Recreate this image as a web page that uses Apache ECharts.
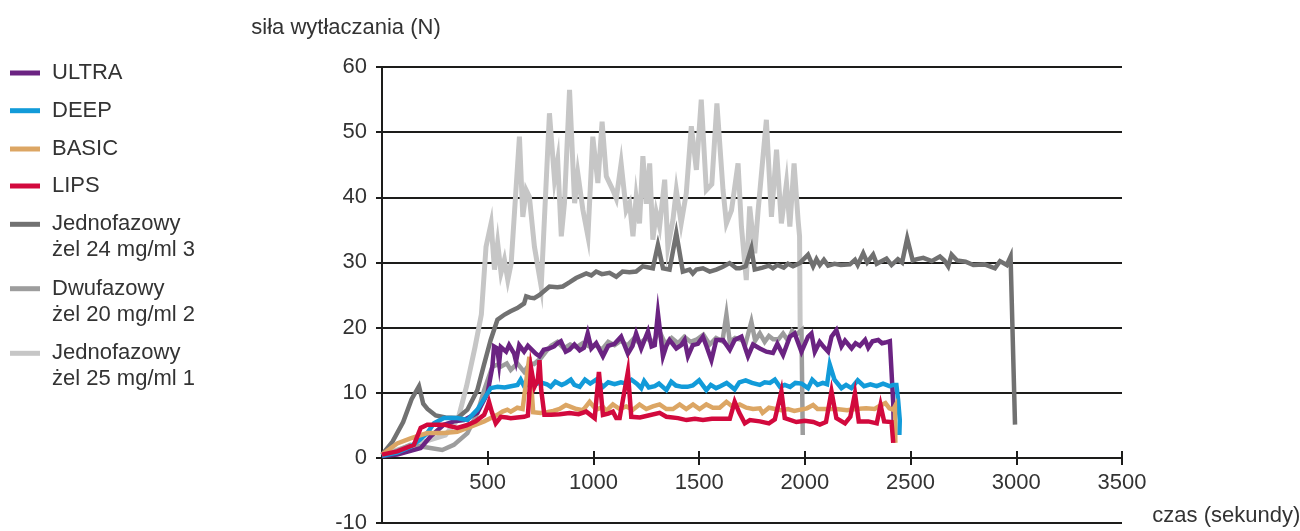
<!DOCTYPE html>
<html><head><meta charset="utf-8">
<script src="https://cdn.jsdelivr.net/npm/echarts@6/dist/echarts.min.js"></script>
<style>html,body{margin:0;padding:0;background:#fff}#c{width:1300px;height:531px}</style>
</head><body><div id="c"></div>
<script>
// ---- axis settings ----
const xMin = 0, xMax = 3500, xStep = 500;
const yMin = -10, yMax = 60, yStep = 10;
const yTitle = 'siła wytłaczania (N)';
const xTitle = 'czas (sekundy)';

// ---- series names (legend order) ----
const names = ['ULTRA', 'DEEP', 'BASIC', 'LIPS',
  'Jednofazowy\nżel 24 mg/ml 3', 'Dwufazowy\nżel 20 mg/ml 2', 'Jednofazowy\nżel 25 mg/ml 1'];

// ---- data: [time s, force N] ----
const ultra = [[0,0.3],[72,0.5],[183,1.5],[230,3.3],[293,5.1],[340,5.6],[388,5.8],[451,6.9],[499,9.9],[522,14],[530,17.1],[545,16.8],[554,14.5],[562,17],[587,16.3],[601,17.3],[625,16],[634,14.8],[649,17.3],[672,16.3],[690,17.2],[727,16],[745,15.6],[765,16.6],[792,16.8],[814,17.1],[830,17.6],[846,17.9],[869,16.3],[887,16.6],[910,17.4],[935,16.5],[955,16.9],[973,19.1],[990,16.8],[1013,17.6],[1045,15.6],[1070,17.2],[1100,17.5],[1131,18.6],[1163,16],[1185,17.2],[1202,19.1],[1226,16.8],[1258,19.4],[1275,17.1],[1290,17.3],[1305,22.2],[1329,15.6],[1345,17.2],[1360,18.1],[1392,16.8],[1415,17.3],[1431,18.1],[1447,15.6],[1470,17.3],[1494,17.5],[1518,18.6],[1534,17.2],[1558,15],[1581,18.1],[1613,18.1],[1645,16.6],[1668,18.1],[1700,18.6],[1731,15.6],[1755,17.4],[1787,16.8],[1818,16.3],[1849,16.1],[1870,17.5],[1897,15.8],[1929,18.6],[1952,19.1],[1984,16.3],[2015,18.6],[2031,19.1],[2047,16.3],[2070,17.8],[2090,17],[2110,16.3],[2126,18.6],[2149,19.6],[2173,17.1],[2190,18],[2221,16.8],[2240,17.6],[2260,17.2],[2285,18.1],[2300,16.9],[2320,17.9],[2347,18.1],[2365,17.6],[2380,17.7],[2402,17.9],[2418,8.4],[2421,4]];
const deep = [[0,0.3],[72,0.8],[135,1.7],[180,2.8],[214,3.8],[246,5.3],[293,6.1],[356,6.1],[404,5.8],[451,7.4],[499,9.9],[514,10.7],[546,10.9],[580,10.8],[610,11],[641,11.2],[656,12],[672,11],[700,11.4],[720,11.2],[750,11.6],[780,11.3],[798,10.9],[820,11.7],[850,11.2],[870,11.5],[893,12],[910,11.2],[935,10.9],[960,12],[985,11.4],[1013,12],[1045,10.9],[1070,11.6],[1100,11.3],[1130,11.6],[1155,11.4],[1180,12],[1205,11.4],[1226,10.7],[1240,11.8],[1262,10.8],[1290,11],[1310,11.4],[1345,10.4],[1368,11.7],[1390,11.1],[1420,10.9],[1445,10.9],[1470,11.1],[1500,11.9],[1534,10.4],[1555,11.2],[1580,10.7],[1600,11],[1630,11.5],[1650,11],[1668,10.5],[1690,11.6],[1720,11.9],[1750,11.5],[1787,11.2],[1810,11.6],[1835,11.5],[1858,12],[1882,10.9],[1905,11.2],[1930,10.9],[1955,11.5],[1985,11.4],[2015,10.7],[2035,12],[2060,11.2],[2085,11.5],[2105,11.3],[2118,14.3],[2140,12],[2173,10.7],[2195,11.2],[2220,10.7],[2250,11.9],[2280,11],[2310,11.3],[2340,11],[2370,11.4],[2400,11],[2418,11.2],[2433,11.2],[2441,8.9],[2449,5.8],[2447,3.5]];
const basic = [[0,0.5],[72,2.2],[135,3],[214,3.8],[293,3.8],[356,4],[420,4.8],[483,5.6],[546,6.6],[570,7.1],[593,7.4],[609,7.1],[640,7.7],[665,7.5],[697,15.5],[715,7],[751,6.9],[780,7],[810,7.2],[840,7.5],[870,8.1],[887,7.9],[920,7.5],[950,7.3],[982,8.6],[1013,7.4],[1045,7.8],[1060,7.2],[1092,8.2],[1124,7.5],[1155,7.9],[1187,7.4],[1218,8.2],[1250,7.5],[1281,7.9],[1313,8.2],[1345,7.5],[1376,7.5],[1408,8.2],[1439,7.5],[1471,8.2],[1502,7.5],[1534,8.2],[1565,7.7],[1597,7.7],[1629,8.6],[1660,7.8],[1692,8.2],[1723,7.7],[1755,7.5],[1787,7.6],[1800,6.9],[1830,7.7],[1860,7.5],[1890,7.3],[1920,7.5],[1950,7.2],[1980,7.4],[2010,7.6],[2039,8.1],[2060,7.5],[2100,7.5],[2150,7.5],[2200,7.3],[2240,7.5],[2290,7.6],[2330,7.5],[2355,8],[2381,8.4],[2400,7.6],[2418,7.4],[2426,7.9],[2428,2.3]];
const lips = [[0,0.5],[72,1],[151,2],[183,4.6],[214,5.1],[293,5.1],[356,4.6],[400,5],[443,5.6],[483,6.6],[499,7.9],[506,8.6],[520,7],[538,5.3],[562,6.3],[590,6.2],[609,6.1],[640,6.2],[672,6.3],[690,6.5],[705,13.8],[721,10.9],[737,12],[745,15],[753,10.4],[768,6.6],[800,6.6],[840,6.7],[887,6.9],[930,6.7],[966,7.1],[1006,6.1],[1026,13.2],[1045,6.6],[1070,6.8],[1092,7.1],[1108,6.1],[1124,6.1],[1163,13.2],[1179,6.3],[1220,6.2],[1260,6.5],[1313,6.9],[1345,6.3],[1400,6.1],[1440,5.8],[1480,6],[1518,5.8],[1560,6],[1610,6],[1645,6],[1668,8.6],[1690,6.9],[1716,5.3],[1740,5.8],[1787,5.6],[1830,5.3],[1858,5.9],[1889,10.2],[1905,6.1],[1913,5.8],[1960,5.5],[2000,5.7],[2040,5.5],[2071,5.1],[2100,5.5],[2126,10.2],[2149,6.1],[2190,5.3],[2215,6.3],[2237,9.9],[2255,5.6],[2300,5.6],[2340,5.3],[2358,8.1],[2375,5.6],[2410,5.5],[2418,2.3]];
const jedno24 = [[0,0.5],[50,2.5],[100,5.5],[140,9],[175,11],[195,8.3],[215,7.5],[254,6.5],[300,6.2],[356,6.1],[404,7.4],[451,10.4],[480,14],[514,18.1],[546,21.2],[580,22],[608,22.5],[640,23],[672,23.7],[682,24.8],[700,24.6],[720,24.5],[745,25],[792,26.3],[830,26.2],[855,26.3],[890,27],[918,27.6],[966,28.3],[990,28],[1013,28.6],[1040,28.2],[1076,28.4],[1108,27.8],[1138,28.6],[1170,28.5],[1202,28.6],[1233,29.4],[1281,29.1],[1305,32.7],[1329,29.1],[1360,28.9],[1392,34.5],[1423,28.6],[1455,28.9],[1470,28.3],[1487,28.9],[1518,29.1],[1550,28.6],[1581,28.9],[1610,29.3],[1644,29.9],[1676,29.1],[1692,29.1],[1720,29.4],[1747,32.2],[1763,28.9],[1800,29.2],[1830,29.5],[1849,29.1],[1870,29.6],[1900,29.2],[1920,29.8],[1944,29.4],[1976,29.9],[2015,31.2],[2039,29.4],[2055,30.5],[2071,29.6],[2090,30.4],[2110,29.5],[2140,29.8],[2170,29.6],[2213,29.7],[2237,30.4],[2250,29.6],[2276,31.4],[2295,30],[2323,31.2],[2340,29.8],[2386,30.6],[2410,29.6],[2440,30.5],[2460,30],[2484,33.7],[2510,30.3],[2531,30.5],[2560,30.7],[2600,30.2],[2639,30.9],[2660,30.3],[2678,29.4],[2694,31.2],[2720,30.3],[2760,30.1],[2797,29.6],[2850,29.7],[2899,29.1],[2923,30.2],[2955,29.6],[2973,30.9],[2994,5.1]];
const dwu20 = [[0,0.3],[50,0.8],[134,2],[214,1.6],[285,1.2],[340,2],[404,3.8],[451,6.9],[483,10.4],[522,14],[546,14.3],[562,14],[590,14.5],[609,13.5],[640,14.5],[672,13.2],[700,14.5],[719,14.4],[751,15.3],[780,16.5],[800,17.2],[830,17.8],[860,16.8],[890,17.4],[920,17],[950,17.6],[980,17.1],[1012,17.3],[1040,16.6],[1070,17.8],[1100,17.3],[1130,18],[1160,17.2],[1190,18.3],[1220,17.6],[1250,18.4],[1280,17.7],[1313,19.4],[1340,17.5],[1370,18.4],[1400,17.6],[1430,18.6],[1460,17.8],[1490,18.2],[1520,18.9],[1550,17.4],[1580,18.4],[1610,17.9],[1629,22],[1645,17.8],[1670,18.4],[1700,18.1],[1720,17.6],[1747,20.9],[1765,18],[1787,19.1],[1810,17.8],[1830,18.7],[1850,18.2],[1875,18.2],[1897,19.1],[1920,18],[1940,19.5],[1960,18.9],[1984,19.6],[1990,3.5]];
const jedno25 = [[0,0.5],[100,1.5],[200,2.5],[300,3.5],[360,6],[400,11],[440,17],[470,22],[492,32.4],[516,36],[532,28.9],[547,33],[563,28.4],[579,30.4],[595,27.3],[611,29.9],[650,49.3],[666,37],[682,41.1],[697,40.1],[721,32.4],[753,26.3],[792,52.9],[816,42.7],[831,45.7],[848,34],[863,39.1],[887,56.5],[911,39.1],[926,43.7],[950,38.1],[974,34],[997,49.3],[1021,42.2],[1041,51.6],[1061,43.2],[1092,41.1],[1108,39.8],[1131,45.2],[1155,38],[1171,39.1],[1187,34],[1202,40],[1218,36],[1234,46.3],[1250,39],[1266,45.2],[1281,33.5],[1297,37.7],[1313,35.5],[1337,42.7],[1352,32.4],[1376,36.5],[1392,41.1],[1415,36],[1439,40.6],[1463,50.9],[1487,44.2],[1510,55],[1534,41.1],[1560,42],[1584,54.4],[1613,41.1],[1629,36],[1653,38],[1684,45.2],[1700,35.5],[1723,27.3],[1739,38.6],[1763,31.4],[1779,38],[1818,51.9],[1842,37],[1866,47.3],[1889,36],[1913,42.2],[1929,35.5],[1949,45.2],[1968,36.5],[1975,34],[1978,19]];

const FONT = '"Liberation Sans", Arial, sans-serif';
const TXT = '#333333';
const AX = '#1d1d1b';

// draw order: light grays first, coloured lines on top
const seriesList = [
  { name: names[6], data: jedno25, color: '#c6c6c6', w: 5 },
  { name: names[5], data: dwu20, color: '#9d9d9d', w: 4.5 },
  { name: names[4], data: jedno24, color: '#717171', w: 4.5 },
  { name: names[0], data: ultra, color: '#6b2382', w: 4.5 },
  { name: names[1], data: deep, color: '#129bd9', w: 4.5 },
  { name: names[2], data: basic, color: '#dca664', w: 4.5 },
  { name: names[3], data: lips, color: '#d2093d', w: 4.5 }
];

// legend icon centres (px) for each name, in legend order
const legendIconY = [73, 110.7, 149, 186, 224.3, 288.7, 353.3];

const xAxisBase = {
  type: 'value', min: xMin, max: xMax, interval: xStep, position: 'bottom',
  offset: -65,
  axisLine: { show: true, onZero: false, lineStyle: { color: AX, width: 2 } },
  splitLine: { show: false }
};

const chart = echarts.init(document.getElementById('c'), null, { renderer: 'canvas' });
chart.setOption({
  animation: false,
  backgroundColor: '#ffffff',
  textStyle: { fontFamily: FONT },
  grid: { left: 382, top: 67, width: 740, height: 456, containLabel: false, outerBoundsMode: 'none' },
  legend: names.map((n, i) => {
    const two = n.indexOf('\n') >= 0;
    return {
      left: 10, top: legendIconY[i] - (two ? 39 : 13), padding: 0,
      orient: 'vertical', icon: 'rect', itemWidth: 30, itemHeight: 5,
      selectedMode: false, data: [n],
      formatter: two ? (nm => '\u00a0\n' + nm) : (nm => nm),
      textStyle: { fontFamily: FONT, fontSize: 22, lineHeight: 26, color: TXT,
        padding: [0, 0, 0, 7] }
    };
  }),
  xAxis: [Object.assign({}, xAxisBase, {
    axisTick: { show: true, length: 7, lineStyle: { color: AX, width: 2 } },
    axisLabel: { fontFamily: FONT, fontSize: 22, color: TXT, margin: 14,
      formatter: v => (v === 0 ? '' : String(v)) },
    name: xTitle, nameLocation: 'end', nameGap: 15,
    nameTextStyle: { fontFamily: FONT, fontSize: 22, color: TXT,
      verticalAlign: 'top', lineHeight: 116 }
  }), Object.assign({}, xAxisBase, {
    axisTick: { show: true, inside: true, length: 7, lineStyle: { color: AX, width: 2 } },
    axisLabel: { show: false }
  })],
  yAxis: {
    type: 'value', min: yMin, max: yMax, interval: yStep,
    axisLine: { show: true, onZero: false, lineStyle: { color: AX, width: 2 } },
    axisTick: { show: true, length: 6, lineStyle: { color: AX, width: 2 } },
    axisLabel: { fontFamily: FONT, fontSize: 22, color: TXT, margin: 15 },
    splitLine: { show: true, lineStyle: { color: AX, width: 2 } },
    name: yTitle, nameLocation: 'end', nameGap: 28,
    nameTextStyle: { fontFamily: FONT, fontSize: 22, color: TXT, align: 'center', padding: [0, 72, 0, 0] }
  },
  series: seriesList.map(s => ({
    type: 'line', name: s.name, data: s.data, color: s.color,
    symbol: 'none', showSymbol: false, smooth: false,
    lineStyle: { color: s.color, width: s.w, join: 'miter' },
    emphasis: { disabled: true }
  }))
});
</script>
</body></html>
